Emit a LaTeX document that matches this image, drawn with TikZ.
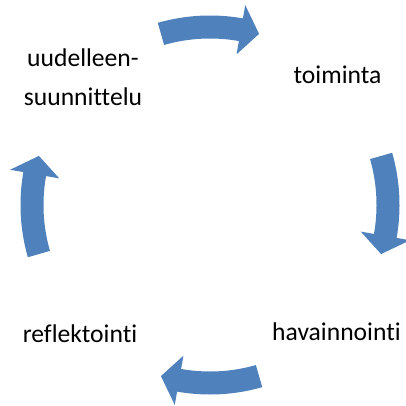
\documentclass[tikz,border=0pt]{standalone}
\usepackage{fontspec}
\setmainfont{Carlito}[Ligatures=NoCommon, RawFeature={-liga;-clig}]
\definecolor{cycleblue}{RGB}{79,129,189}
\tikzset{
  label/.style={inner sep=0pt, anchor=base, font=\fontsize{25.6}{38}\selectfont},
  arrowfill/.style={fill=cycleblue, draw=none}
}
% curved block arrow around the centre (c): #1 = middle angle of the arrow
\newcommand{\cyclearrow}[1]{%
  \pgfmathsetmacro{\ta}{#1+16}%
  \pgfmathsetmacro{\tb}{#1-10}%
  \pgfmathsetmacro{\tc}{#1-16}%
  \fill[arrowfill] ([shift={(\ta:189.5)}]c) arc[start angle=\ta, end angle=\tb, radius=189.5]
    -- ([shift={(\tb:203)}]c) -- ([shift={(\tc:178)}]c) -- ([shift={(\tb:153)}]c)
    -- ([shift={(\tb:166.5)}]c) arc[start angle=\tb, end angle=\ta, radius=166.5] -- cycle;
}
\begin{document}
\begin{tikzpicture}[x=1pt, y=1pt]
  \useasboundingbox (0,0) rectangle (406,405);
  \coordinate (c) at (210,200);
  % four arrows running clockwise
  \cyclearrow{90}
  \cyclearrow{0}
  \cyclearrow{-90}
  \cyclearrow{180}
  % stage labels
  \node[label] (toim) at (337.5,321) {toiminta};
  \node[label] (hav) at (336.5,65) {havainnointi};
  \node[label] (refl) at (80,63) {reflektointi};
  \node[label] (uud1) at (83,338) {uudelleen-};
  \node[label] (uud2) at (83,300) {suunnittelu};
\end{tikzpicture}
\end{document}
